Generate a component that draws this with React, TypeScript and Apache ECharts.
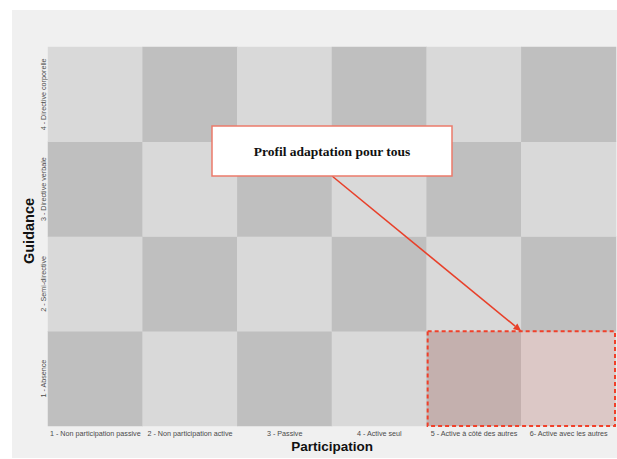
import React, { useEffect, useRef } from "react";
import * as echarts from "echarts";

const xCategories = [
  "1 - Non participation passive",
  "2 - Non participation active",
  "3 - Passive",
  "4 - Active seul",
  "5 - Active à côté des autres",
  "6- Active avec les autres",
];
const yCategories = [
  "1 - Absence",
  "2 - Semi-directive",
  "3 - Directive verbale",
  "4 - Directive corporelle",
];
// 1 = dark cell, 0 = light cell, one array per row (bottom to top)
const rowAbsence = [1, 0, 1, 0, 1, 0];
const rowSemi = [0, 1, 0, 1, 0, 1];
const rowVerbale = [1, 0, 1, 0, 1, 0];
const rowCorporelle = [0, 1, 0, 1, 0, 1];
const rows = [rowAbsence, rowSemi, rowVerbale, rowCorporelle];

// highlighted zone: [xStart, y, xEnd, y] (category indices)
const highlightZone = [[4, 0, 5, 0]];
const annotationText = "Profil adaptation pour tous";
const xTitle = "Participation";
const yTitle = "Guidance";

export default function App() {
  const ref = useRef<HTMLDivElement>(null);
  useEffect(() => {
    if (!ref.current) return;
    const chart = echarts.init(ref.current, null, { renderer: "svg" });
    const heatData: number[][] = [];
    rows.forEach((row, y) => row.forEach((v, x) => heatData.push([x, y, v])));

    const labelStyle = {
      fontFamily: "Liberation Sans, Arial, sans-serif",
      fontSize: 7.2,
      color: "#4a4a4a",
    };

    chart.setOption({
      animation: false,
      backgroundColor: "#ffffff",
      grid: { left: 48, right: 1, top: 47, bottom: 33 },
      xAxis: {
        type: "category",
        data: xCategories,
        axisLine: { show: false },
        axisTick: { show: false },
        splitLine: { show: false },
        axisLabel: { ...labelStyle, interval: 0, margin: 4 },
      },
      yAxis: {
        type: "category",
        data: yCategories,
        axisLine: { show: false },
        axisTick: { show: false },
        splitLine: { show: false },
        axisLabel: { ...labelStyle, interval: 0, rotate: 90, margin: 1 },
      },
      visualMap: {
        show: false,
        type: "piecewise",
        dimension: 2,
        seriesIndex: 0,
        pieces: [
          { value: 0, color: "#d9d9d9" },
          { value: 1, color: "#bfbfbf" },
        ],
      },
      series: [
        {
          type: "heatmap",
          data: heatData,
          emphasis: { disabled: true },
          itemStyle: { borderWidth: 0 },
        },
        {
          type: "custom",
          data: highlightZone,
          z: 5,
          renderItem: (params: any, api: any) => {
            const p1 = api.coord([api.value(0), api.value(1)]);
            const p2 = api.coord([api.value(2), api.value(3)]);
            const size = api.size([1, 1]);
            return {
              type: "rect",
              shape: {
                x: p1[0] - size[0] / 2 + 1,
                y: p1[1] - size[1] / 2,
                width: p2[0] - p1[0] + size[0] - 2,
                height: size[1],
              },
              style: {
                fill: "rgba(255,20,0,0.085)",
                stroke: "#f0402a",
                lineWidth: 2,
                lineDash: [4, 3],
              },
            };
          },
        },
      ],
    });

    // positions derived from axes
    const c2 = chart.convertToPixel({ gridIndex: 0 }, [2, 0]) as number[];
    const c3 = chart.convertToPixel({ gridIndex: 0 }, [3, 0]) as number[];
    const c4 = chart.convertToPixel({ gridIndex: 0 }, [4, 0]) as number[];
    const c5 = chart.convertToPixel({ gridIndex: 0 }, [5, 0]) as number[];
    const r1 = chart.convertToPixel({ gridIndex: 0 }, [4, 1]) as number[];
    const midX = (c2[0] + c3[0]) / 2;
    const endX = (c4[0] + c5[0]) / 2;
    const endY = (c4[1] + r1[1]) / 2;

    const boxW = 240;
    const boxTop = 126;
    const boxH = 50;
    const startX = midX;
    const startY = boxTop + boxH;
    const dx = endX - startX;
    const dy = endY - startY;
    const len = Math.sqrt(dx * dx + dy * dy);
    const ux = dx / len;
    const uy = dy / len;
    const headL = 8;
    const headW = 3.5;
    const bx = endX - ux * headL;
    const by = endY - uy * headL;

    chart.setOption({
      graphic: [
        {
          type: "rect",
          z: -10,
          silent: true,
          shape: { x: 12, y: 10, width: 605, height: 448 },
          style: { fill: "#f0f0f0" },
        },
        {
          type: "text",
          z: 10,
          x: 332,
          y: 446,
          style: {
            text: xTitle,
            fontFamily: "Liberation Sans, Arial, sans-serif",
            fontWeight: "bold",
            fontSize: 13.5,
            fill: "#111111",
            align: "center",
            verticalAlign: "middle",
          },
        },
        {
          type: "text",
          z: 10,
          x: 29,
          y: 231,
          rotation: Math.PI / 2,
          style: {
            text: yTitle,
            fontFamily: "Liberation Sans, Arial, sans-serif",
            fontWeight: "bold",
            fontSize: 14.5,
            fill: "#111111",
            align: "center",
            verticalAlign: "middle",
          },
        },
        {
          type: "line",
          z: 100,
          shape: { x1: startX, y1: startY, x2: bx, y2: by },
          style: { stroke: "#e8402a", lineWidth: 1.6 },
        },
        {
          type: "polygon",
          z: 100,
          shape: {
            points: [
              [endX, endY],
              [bx - uy * headW, by + ux * headW],
              [bx + uy * headW, by - ux * headW],
            ],
          },
          style: { fill: "#e8402a" },
        },
        {
          type: "rect",
          z: 100,
          shape: { x: midX - boxW / 2, y: boxTop, width: boxW, height: boxH },
          style: { fill: "#ffffff", stroke: "#ec7b6b", lineWidth: 1.5 },
        },
        {
          type: "text",
          z: 101,
          x: midX,
          y: boxTop + boxH / 2,
          style: {
            text: annotationText,
            fontFamily: "Liberation Serif, Times New Roman, serif",
            fontWeight: "bold",
            fontSize: 13.5,
            fill: "#111111",
            align: "center",
            verticalAlign: "middle",
          },
        },
      ],
    });

    return () => chart.dispose();
  }, []);

  return (
    <div
      ref={ref}
      style={{ position: "fixed", left: 0, top: 0, width: 617, height: 459 }}
    />
  );
}
